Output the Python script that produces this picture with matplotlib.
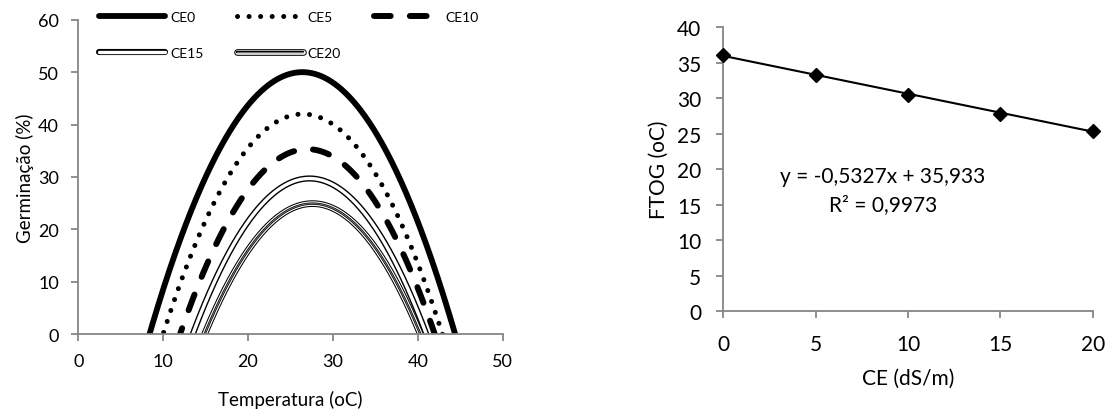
import numpy as np
import matplotlib
matplotlib.use("Agg")
import matplotlib.pyplot as plt
from matplotlib.lines import Line2D
from matplotlib.legend_handler import HandlerBase

plt.rcParams['font.family'] = ['Lato', 'DejaVu Sans']

# Left panel: quadratic germination curves (roots and peak)
series = ["CE0", "CE5", "CE10", "CE15", "CE20"]
t_low = [8.4, 10.0, 12.0, 13.5, 14.9]
t_high = [44.4, 42.9, 42.0, 41.0, 40.3]
g_peak = [50.0, 42.0, 35.3, 29.7, 24.9]

# Right panel: FTOG vs CE
ce = [0, 5, 10, 15, 20]
ftog = [36.1, 33.2, 30.4, 27.8, 25.4]
slope, intercept, r2 = -0.5327, 35.933, 0.9973

GRAY = "#868686"
W, H = 1113, 414

fig = plt.figure(figsize=(11.13, 4.14), dpi=100)
ax1 = fig.add_axes([0.0703, 0.1908, 0.3813, 0.759])
ax2 = fig.add_axes([0.6499, 0.2457, 0.3319, 0.6867])


def style(ax, size, pad):
    for s in ["top", "right"]:
        ax.spines[s].set_visible(False)
    for s in ["left", "bottom"]:
        ax.spines[s].set_color(GRAY)
        ax.spines[s].set_linewidth(1.3)
    ax.tick_params(direction="out", length=5, width=1.3, color=GRAY,
                   labelsize=size, pad=pad)


# layered strokes used for the "double" / "triple" compound lines
layers = {
    "CE15": [("k", 4.4), ("w", 2.4)],
    "CE20": [("k", 4.8), ("w", 3.3), ("k", 1.7), ("#888888", 0.6)],
}
simple = {
    "CE0": dict(lw=4.2, ls="-"),
    "CE5": dict(lw=3.6, ls=(0, (0.01, 2.3))),
    "CE10": dict(lw=4.3, ls=(0, (2.8, 3.2))),
}

x = np.linspace(0, 50, 1001)
handles = {}
for name, a, b, p in zip(series, t_low, t_high, g_peak):
    k = p / ((b - a) / 2) ** 2
    y = k * (x - a) * (b - x)
    m = y >= -2
    if name in simple:
        st = simple[name]
        ax1.plot(x[m], y[m], color="k", lw=st["lw"], ls=st["ls"],
                 dash_capstyle="round", solid_capstyle="butt")
        handles[name] = Line2D([], [], color="k", lw=st["lw"], ls=st["ls"],
                               dash_capstyle="round", solid_capstyle="round")
    else:
        for c, lw in layers[name]:
            ax1.plot(x[m], y[m], color=c, lw=lw, solid_capstyle="butt")
        handles[name] = tuple(Line2D([], [], color=c, lw=lw) for c, lw in layers[name])


class MultiHandler(HandlerBase):
    def create_artists(self, legend, orig, xd, yd, w, h, fontsize, trans):
        arts = []
        for ln in orig:
            l = Line2D([xd, xd + w], [yd + h / 2, yd + h / 2], color=ln.get_color(),
                       lw=ln.get_linewidth(), solid_capstyle="round", transform=trans)
            arts.append(l)
        return arts


ax1.set_xlim(0, 50)
ax1.set_ylim(0, 60)
ax1.set_xticks(range(0, 51, 10))
ax1.set_yticks(range(0, 61, 10))
style(ax1, 13, 9)
ax1.set_xlabel("Temperatura (oC)", fontsize=13.5, labelpad=15)
ax1.set_ylabel("Germinação (%)", fontsize=13.5, labelpad=3)

# row-major legend order (matplotlib fills columns first)
order = ["CE0", "CE15", "CE5", "CE20", "CE10"]
leg = ax1.legend([handles[n] for n in order], order, ncol=3, loc="upper left",
                 bbox_to_anchor=(99 / W, 1 - 12 / H), bbox_transform=fig.transFigure,
                 frameon=False, fontsize=10, borderpad=0, borderaxespad=0,
                 handlelength=4.75, handletextpad=0.36, columnspacing=2.4,
                 labelspacing=1.75, handler_map={tuple: MultiHandler()})

# Right panel
ax2.plot(ce, ftog, color="k", lw=0, marker="D", markersize=7, clip_on=False, zorder=3)
xf = np.array([min(ce), max(ce)])
ax2.plot(xf, slope * xf + intercept, color="k", lw=1.5, clip_on=False)
ax2.set_xlim(0, 20)
ax2.set_ylim(0, 40)
ax2.set_xticks(range(0, 21, 5))
ax2.set_yticks(range(0, 41, 5))
style(ax2, 15, 11)
ax2.set_xlabel("CE (dS/m)", fontsize=15, labelpad=10)
ax2.set_ylabel("FTOG (oC)", fontsize=15, labelpad=6)
ax2.text(8.65, 19.0, "y = -0,5327x + 35,933", ha="center", va="center", fontsize=15)
ax2.text(8.65, 15.1, "R² = 0,9973", ha="center", va="center", fontsize=15)

fig.savefig("out.png", dpi=100)
